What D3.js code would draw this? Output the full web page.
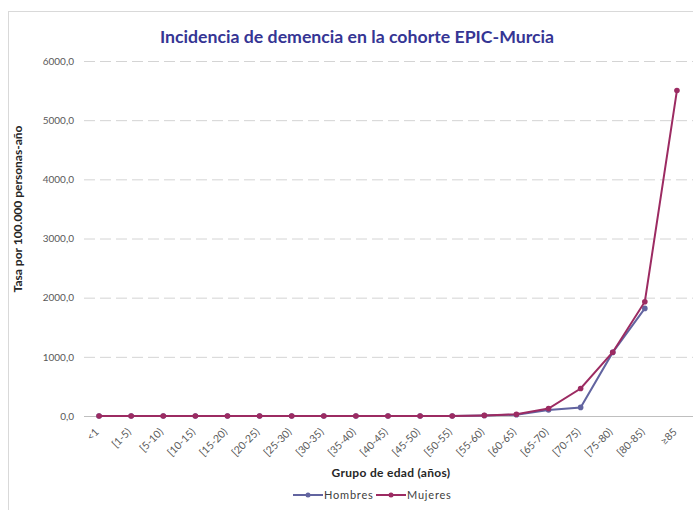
<!DOCTYPE html>
<html>
<head>
<meta charset="utf-8">
<script src="https://cdn.jsdelivr.net/npm/d3@7"></script>
<style>
  body { margin: 0; background: #fff; }
  svg { display: block; font-family: Lato, "Open Sans", sans-serif; }
</style>
</head>
<body>
<script>
// Age groups
var categories = ["<1", "[1-5)", "[5-10)", "[10-15)", "[15-20)", "[20-25)", "[25-30)",
  "[30-35)", "[35-40)", "[40-45)", "[45-50)", "[50-55)", "[55-60)", "[60-65)",
  "[65-70)", "[70-75)", "[75-80)", "[80-85)", "\u226585"];

// Incidence per 100.000 person-years
var hombres = [0, 0, 0, 0, 0, 0, 0, 0, 0, 0, 0, 0, 8, 22, 101, 145, 1075, 1819, null];
var mujeres = [0, 0, 0, 0, 0, 0, 0, 0, 0, 0, 0, 0, 10, 30, 127, 465, 1078, 1931, 5502];

var yTicks = [0, 1000, 2000, 3000, 4000, 5000, 6000];

var width = 693, height = 510;
var svg = d3.select("body").append("svg")
    .attr("width", width)
    .attr("height", height);

// chart border
svg.append("rect")
    .attr("x", 8.5).attr("y", 11.5)
    .attr("width", 700).attr("height", 520)
    .attr("fill", "none")
    .attr("stroke", "#d9d9d9");

var x = d3.scaleBand().domain(categories).range([83, 693]);
var y = d3.scaleLinear().domain([0, 6000]).range([416, 61]);

// gridlines
svg.append("g")
    .selectAll("line")
    .data(yTicks.filter(function (d) { return d > 0; }))
    .join("line")
    .attr("x1", 84).attr("x2", 693)
    .attr("y1", function (d) { return y(d) + 0.5; })
    .attr("y2", function (d) { return y(d) + 0.5; })
    .attr("stroke", "#d4d4d4")
    .attr("stroke-width", 1)
    .attr("stroke-dasharray", "11,5");

// base axis
svg.append("line")
    .attr("x1", 84).attr("x2", 693)
    .attr("y1", y(0) + 0.5).attr("y2", y(0) + 0.5)
    .attr("stroke", "#bfbfbf");

// y tick labels
var yAxis = d3.axisLeft(y)
    .tickValues(yTicks)
    .tickSize(0)
    .tickPadding(0)
    .tickFormat(function (d) { return d3.format(".1f")(d).replace(".", ","); });
var gy = svg.append("g")
    .attr("transform", "translate(74,0)")
    .call(yAxis);
gy.select(".domain").remove();
gy.selectAll("text")
    .attr("fill", "#595959")
    .style("font-size", "10px")
    .style("font-family", "Lato, sans-serif");

// x tick labels
var xAxis = d3.axisBottom(x).tickSize(0).tickPadding(0);
var gx = svg.append("g")
    .call(xAxis);
gx.select(".domain").remove();
gx.selectAll(".tick")
    .attr("transform", function (d) { return "translate(" + (x(d) + x.bandwidth() / 2 - 2) + ",430)"; });
gx.selectAll("text")
    .attr("y", 0)
    .attr("dy", "0.35em")
    .attr("text-anchor", "end")
    .attr("transform", "rotate(-45)")
    .attr("fill", "#595959")
    .style("font-size", "10.5px")
    .style("font-family", "Lato, sans-serif");

// series
var series = [
  { name: "Hombres", values: hombres, color: "#6264a0" },
  { name: "Mujeres", values: mujeres, color: "#9c2b62" }
];

var line = d3.line()
    .defined(function (d) { return d != null; })
    .x(function (d, i) { return x(categories[i]) + x.bandwidth() / 2; })
    .y(function (d) { return y(d); });

series.forEach(function (s) {
    svg.append("path")
        .datum(s.values)
        .attr("fill", "none")
        .attr("stroke", s.color)
        .attr("stroke-width", 2)
        .attr("d", line);
    svg.append("g")
        .selectAll("circle")
        .data(s.values.map(function (v, i) { return { v: v, i: i }; })
            .filter(function (d) { return d.v != null; }))
        .join("circle")
        .attr("cx", function (d) { return x(categories[d.i]) + x.bandwidth() / 2; })
        .attr("cy", function (d) { return y(d.v); })
        .attr("r", 2.8)
        .attr("fill", s.color);
});

// title
svg.append("text")
    .attr("x", 357).attr("y", 43)
    .attr("text-anchor", "middle")
    .attr("fill", "#353594")
    .style("font-size", "17.7px")
    .style("font-weight", "bold")
    .text("Incidencia de demencia en la cohorte EPIC-Murcia");

// axis titles
svg.append("text")
    .attr("x", 391).attr("y", 477)
    .attr("text-anchor", "middle")
    .attr("fill", "#262626")
    .style("font-size", "12px")
    .style("font-weight", "bold")
    .style("letter-spacing", "0.3px")
    .text("Grupo de edad (a\u00f1os)");

svg.append("text")
    .attr("transform", "translate(22,209) rotate(-90)")
    .attr("text-anchor", "middle")
    .attr("fill", "#262626")
    .style("font-size", "12px")
    .style("font-weight", "bold")
    .text("Tasa por 100.000 personas-a\u00f1o");

// legend
var legend = svg.append("g").attr("transform", "translate(293,495)");
series.forEach(function (s, i) {
    var g = legend.append("g").attr("transform", "translate(" + (i * 83) + ",0)");
    g.append("line")
        .attr("x1", 0).attr("x2", 30)
        .attr("stroke", s.color).attr("stroke-width", 2);
    g.append("circle").attr("cx", 15).attr("r", 2.5).attr("fill", s.color);
    g.append("text")
        .attr("x", 31).attr("dy", "0.35em")
        .attr("fill", "#404040")
        .style("font-size", "11px")
        .style("letter-spacing", "0.8px")
        .text(s.name);
});
</script>
</body>
</html>
